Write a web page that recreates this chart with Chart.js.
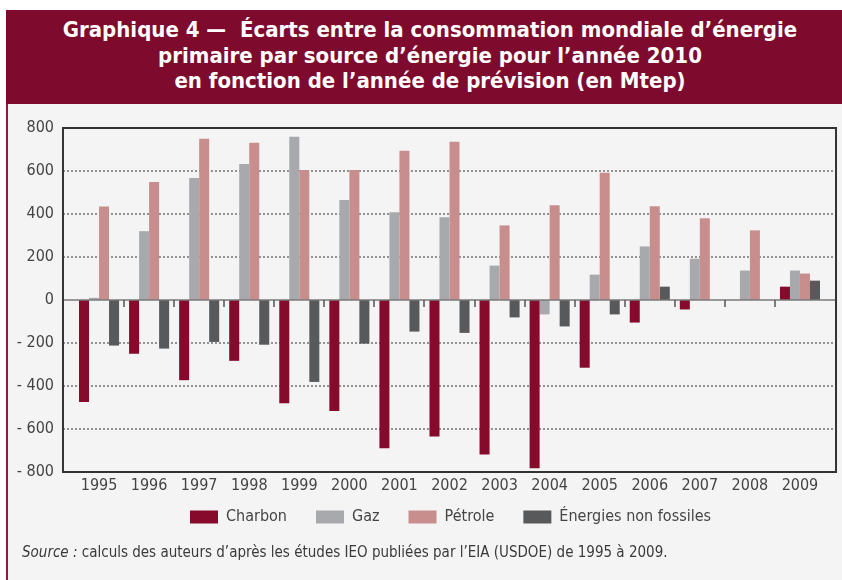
<!DOCTYPE html>
<html>
<head>
<meta charset="utf-8">
<script src="https://cdn.jsdelivr.net/npm/chart.js@4/dist/chart.umd.min.js"></script>
<style>
  body { margin: 0; width: 842px; height: 580px; background: #fff; position: relative; overflow: hidden;
         font-family: "Liberation Sans Narrow", "DejaVu Sans Condensed", "Roboto", sans-serif; }
  .banner { position: absolute; left: 6px; top: 10px; width: 836px; height: 94px; background: #7e0b2d;
            color: #fff; font-weight: bold; font-size: 22px; line-height: 25.5px; text-align: center;
            padding-top: 7px; padding-left: 12px; box-sizing: border-box; }
  .panel { position: absolute; left: 8px; top: 104px; width: 834px; height: 476px; background: #f4f4f4; }
  .rule { position: absolute; left: 6px; top: 104px; width: 2px; height: 476px; background: #8b1d40; }
  #chart { position: absolute; left: 8px; top: 104px; }
  .source { position: absolute; left: 22px; top: 543px; font-size: 15px; color: #3a3a3a; }
</style>
</head>
<body>
<div class="banner">Graphique 4 —&nbsp; Écarts entre la consommation mondiale d’énergie<br>primaire par source d’énergie pour l’année 2010<br>en fonction de l’année de prévision (en Mtep)</div>
<div class="panel"></div>
<div class="rule"></div>
<canvas id="chart" width="834" height="451"></canvas>
<div class="source"><i>Source :</i> calculs des auteurs d’après les études IEO publiées par l’EIA (USDOE) de 1995 à 2009.</div>
<script>
const years = ['1995', '1996', '1997', '1998', '1999', '2000', '2001', '2002', '2003', '2004', '2005', '2006', '2007', '2008', '2009'];
const charbon = [-474, -250, -373, -283, -480, -516, -690, -635, -719, -783, -315, -105, -44, 0, 62];
const gaz = [10, 320, 568, 633, 759, 465, 408, 385, 160, -67, 118, 249, 192, 137, 137];
const petrole = [435, 549, 750, 731, 605, 605, 694, 736, 347, 441, 592, 436, 380, 324, 123];
const nonFossiles = [-212, -226, -195, -208, -381, -203, -147, -153, -81, -123, -67, 62, 0, 0, 90];

const fontFamily = '"Liberation Sans Narrow", "DejaVu Sans Condensed", "Roboto", sans-serif';
Chart.defaults.font.family = fontFamily;
Chart.defaults.color = '#444';

// frame, dotted grid, zero line and small ticks reaching a bit past the categories
const framePlugin = {
    id: 'frame',
    beforeDatasetsDraw(chart) {
        const { ctx, chartArea, scales: { x, y } } = chart;
        const catW = x.getPixelForValue(1) - x.getPixelForValue(0);
        const left = chartArea.left - catW * 0.22;
        const right = chartArea.right + catW * 0.22;
        ctx.save();
        ctx.setLineDash([2, 2]);
        ctx.lineWidth = 1.5;
        ctx.strokeStyle = '#707070';
        y.ticks.forEach(t => {
            if (t.value === 0 || Math.abs(t.value) === 800) return;
            const py = Math.round(y.getPixelForValue(t.value));
            ctx.beginPath();
            ctx.moveTo(left, py);
            ctx.lineTo(right, py);
            ctx.stroke();
        });
        ctx.restore();
    },
    afterDatasetsDraw(chart) {
        const { ctx, chartArea, scales: { x, y } } = chart;
        const catW = x.getPixelForValue(1) - x.getPixelForValue(0);
        const left = chartArea.left - catW * 0.22;
        const right = chartArea.right + catW * 0.22;
        const top = Math.round(y.getPixelForValue(800));
        const bottom = Math.round(y.getPixelForValue(-800));
        const zero = Math.round(y.getPixelForValue(0));
        ctx.save();
        ctx.lineWidth = 1.5;
        ctx.strokeStyle = '#7a7a7a';
        ctx.beginPath();
        ctx.moveTo(left, zero);
        ctx.lineTo(right, zero);
        ctx.stroke();
        ctx.strokeStyle = '#555';
        for (let i = 1; i < years.length; i++) {
            const px = Math.round(x.getPixelForValue(i) - catW / 2);
            ctx.beginPath();
            ctx.moveTo(px, zero);
            ctx.lineTo(px, zero + 7);
            ctx.stroke();
        }
        ctx.lineWidth = 2;
        ctx.strokeStyle = '#333';
        ctx.strokeRect(left, top, right - left, bottom - top);
        ctx.restore();
    }
};

// legend sits closer to the year labels and a little right of centre
const legendShift = {
    id: 'legendShift',
    afterLayout(chart) {
        const lg = chart.legend;
        lg.top -= 20;
        lg.bottom -= 20;
        lg.left += 34;
        lg.right += 34;
    }
};

new Chart(document.getElementById('chart'), {
    type: 'bar',
    data: {
        labels: years,
        datasets: [
            { label: 'Charbon', data: charbon, backgroundColor: '#850a2c' },
            { label: 'Gaz', data: gaz, backgroundColor: '#a8a9ad' },
            { label: 'Pétrole', data: petrole, backgroundColor: '#c88e8d' },
            { label: 'Énergies non fossiles', data: nonFossiles, backgroundColor: '#58595b' }
        ]
    },
    options: {
        responsive: false,
        animation: false,
        layout: { padding: { top: 24, right: 17, bottom: 0, left: 0 } },
        datasets: { bar: { categoryPercentage: 0.8, barPercentage: 1.0 } },
        plugins: {
            legend: {
                position: 'bottom',
                labels: { boxWidth: 28, boxHeight: 13, padding: 29, color: '#444', font: { size: 16 } }
            },
            tooltip: { enabled: false }
        },
        scales: {
            x: {
                grid: { display: false, drawTicks: false },
                border: { display: false },
                ticks: { color: '#444', font: { size: 16 }, padding: 4, maxRotation: 0 },
                afterFit(scale) { scale.height = 28; }
            },
            y: {
                min: -800,
                max: 800,
                grid: { display: false },
                border: { display: false },
                ticks: {
                    stepSize: 200,
                    color: '#444',
                    font: { size: 16 },
                    padding: 12,
                    callback: v => v < 0 ? '- ' + Math.abs(v) : String(v)
                },
                afterFit(scale) { scale.width = 66; }
            }
        }
    },
    plugins: [framePlugin, legendShift]
});
</script>
</body>
</html>
